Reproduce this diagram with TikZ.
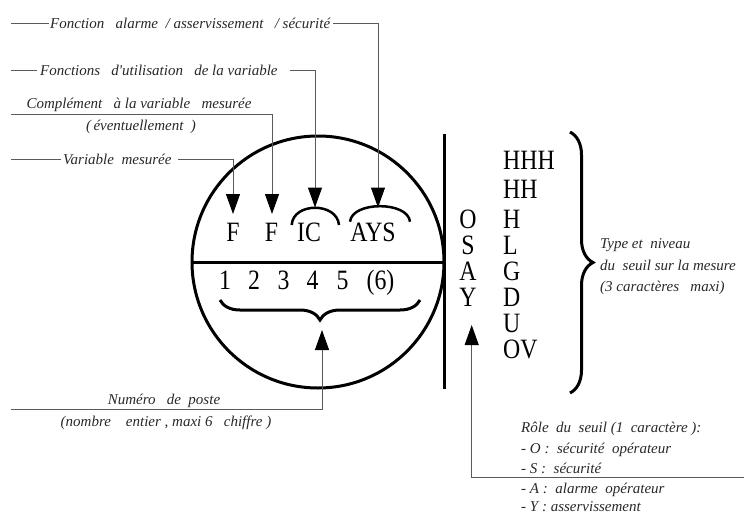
\documentclass[tikz,border=0pt]{standalone}
\usepackage{fontspec}
\setmainfont{Liberation Serif}
\newfontfamily\bigf[FakeStretch=0.85]{Liberation Serif}
\usetikzlibrary{arrows.meta,decorations.pathreplacing}
\definecolor{linec}{RGB}{90,90,90}
\definecolor{labc}{RGB}{40,40,40}
\begin{document}
\begin{tikzpicture}[x=1pt,y=-1pt,
  lbl/.style={font=\fontsize{15}{17}\selectfont\itshape, text=labc, inner sep=0pt},
  lblb/.style={lbl, anchor=base},
  lblw/.style={lbl, anchor=base west},
  big/.style={font=\bigf\fontsize{28}{28}\selectfont, inner sep=0pt, anchor=base},
  bigw/.style={big, anchor=base west},
  lead/.style={draw=linec, line width=1pt, -{Triangle[length=20pt,width=14pt,color=black]}},
  plain/.style={draw=linec, line width=1pt},
  heavy/.style={line width=3pt},
  bracestyle/.style={line width=3pt, decorate, decoration={brace, amplitude=#1}}]
\useasboundingbox (0,0) rectangle (744,514);

% circle and lines
\draw[heavy] (318,262) circle[radius=126];
\coordinate (hl) at (192,262);
\coordinate (hr) at (444,262);
\draw[heavy] (hl) -- (hr);
\coordinate (vt) at (444,134);
\coordinate (vb) at (444,389);
\draw[heavy] (vt) -- (vb);

% letters in circle
\node[big] (F1) at (233,241.5) {F};
\node[big] (F2) at (271.5,241.5) {F};
\node[big] (IC) at (309,241.5) {IC};
\node[big] (AYS) at (373,241.5) {AYS};
\draw[line width=2.5pt] (291.7,225) .. controls (293,202) and (337,202) .. (339,225);
\draw[line width=2.5pt] (350,221.7) .. controls (352,201) and (408,201) .. (410,221.7);
\coordinate (ICtop) at (315,207.5);
\coordinate (AYStop) at (378,207.5);
\coordinate (F1top) at (233,214);
\coordinate (F2top) at (272,214);

% digits
\node[big] (d1) at (225,289.5) {1};
\node[big] (d2) at (254,289.5) {2};
\node[big] (d3) at (283.5,289.5) {3};
\node[big] (d4) at (312.5,289.5) {4};
\node[big] (d5) at (342.5,289.5) {5};
\node[big] (d6) at (380.5,289.5) {(6)};
\coordinate (bl) at (220,300);
\coordinate (br) at (420,300);
\draw[bracestyle=20pt, decoration={mirror}] (bl) -- (br);

% top labels
\coordinate (s1) at (11,23.3);
\node[lbl, anchor=west] (t1) at (50,23.3) {Fonction\ \ \ alarme\ \ / asservissement\ \ \ / sécurité};
\draw[plain] (s1) -- ([xshift=-1.5]t1.west);
\draw[lead] ([xshift=3]t1.east) -| (AYStop);

\coordinate (s2) at (11,70);
\node[lbl, anchor=west] (t2) at (40,70) {Fonctions\ \ \ d\textquotesingle utilisation\ \ \ de la variable};
\draw[plain] (s2) -- ([xshift=-3]t2.west);
\draw[lead] ([xshift=12]t2.east) -| (ICtop);

\coordinate (s3) at (11,114.3);
\node[lblb] (t3a) at (139,108.5) {Complément\ \ \ à la variable\ \ \ mesurée};
\node[lblb] (t3b) at (141,130) {(\,éventuellement\ \ )};
\draw[lead] (s3) -| (F2top);

\coordinate (s4) at (11,159);
\node[lbl, anchor=west] (t4) at (63,159) {Variable\ \ mesurée};
\draw[plain] (s4) -- ([xshift=-2]t4.west);
\draw[lead] ([xshift=6]t4.east) -| (F1top);

% bottom label
\coordinate (s5) at (11,409);
\coordinate (nptip) at (322,330);
\node[lblb] (t5a) at (164,404) {Numéro\ \ \ de\ \ poste};
\node[lblb] (t5b) at (166,426) {(nombre\ \ \ \ entier , maxi 6\ \ \ chiffre )};
\draw[lead] (s5) -| (nptip);

% right columns
\node[big] (O) at (468,228) {O};
\node[big] (S) at (468,254.3) {S};
\node[big] (A) at (468,280.3) {A};
\node[big] (Y) at (468,306.3) {Y};
\node[bigw] (HHH) at (503,169.3) {HHH};
\node[bigw] (HH) at (503,198.3) {HH};
\node[bigw] (H) at (503,228) {H};
\node[bigw] (L) at (503,254.3) {L};
\node[bigw] (G) at (503,280.3) {G};
\node[bigw] (D) at (503,306.3) {D};
\node[bigw] (U) at (503,332) {U};
\node[bigw] (OV) at (503,358) {OV};
\coordinate (rbt) at (570,132);
\coordinate (rbb) at (570,393);
\draw[bracestyle=23pt] (rbt) -- (rbb);

\node[lblw] (ty1) at (600,248.7) {Type et\ \ niveau};
\node[lblw] (ty2) at (600,270.5) {du\ \ seuil sur la mesure};
\node[lblw] (ty3) at (600,291.5) {(3 caractères\ \ \ maxi)};

% role arrow
\coordinate (r0) at (744,477);
\coordinate (rtip) at (471.7,325);
\draw[lead] (r0) -| (rtip);
\node[lblw] (ro1) at (521,432.5) {Rôle\ \ du\ \ seuil (1\ \ caractère ):};
\node[lblw] (ro2) at (521,453.3) {- O :\ \ sécurité\ \ opérateur};
\node[lblw] (ro3) at (521,473.3) {- S :\ \ sécurité};
\node[lblw] (ro4) at (521,493.5) {- A :\ \ alarme\ \ opérateur};
\node[lblw] (ro5) at (521,511) {- Y : asservissement};
\end{tikzpicture}
\end{document}
